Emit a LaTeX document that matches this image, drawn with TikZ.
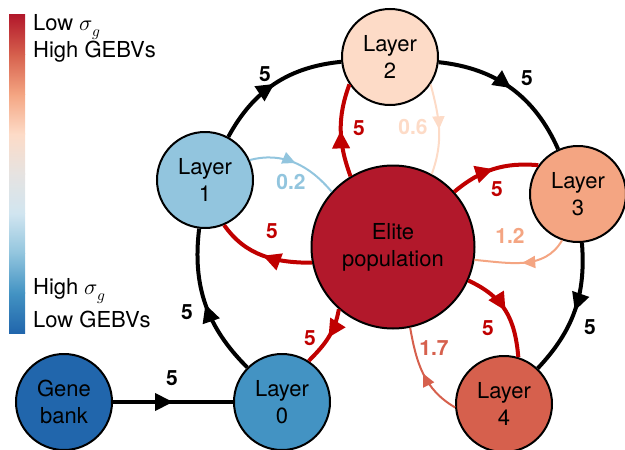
\documentclass[tikz,border=0pt]{standalone}
\usepackage{fontspec}
\usepackage{unicode-math}
\setmainfont{TeX Gyre Heros}
\setmathfont{Latin Modern Math}
\usetikzlibrary{arrows.meta,decorations.markings}
\definecolor{cElite}{HTML}{B2182B}
\definecolor{cL4}{HTML}{D6604D}
\definecolor{cL3}{HTML}{F4A582}
\definecolor{cL2}{HTML}{FDDBC7}
\definecolor{cMid}{HTML}{E6E3E1}
\definecolor{cLb}{HTML}{D1E5F0}
\definecolor{cL1}{HTML}{92C5DE}
\definecolor{cL0}{HTML}{4393C3}
\definecolor{cGene}{HTML}{2166AC}
\definecolor{cRed}{HTML}{C00000}
\tikzset{
  layer/.style={circle, draw=black, line width=2pt, minimum size=96pt, inner sep=0pt, align=center, font=\fontsize{22}{27}\selectfont},
  bigarrow/.style={postaction={decorate}, decoration={markings, mark=at position 0.5 with {\arrow{Triangle[length=18pt,width=17pt]}}}},
  smallarrow/.style={postaction={decorate}, decoration={markings, mark=at position 0.5 with {\arrow{Triangle[length=13pt,width=12pt]}}}},
  ring/.style={draw=black, line width=4pt, bigarrow},
  redline/.style={draw=cRed, line width=4pt, bigarrow},
  thinline/.style={draw=#1, line width=2pt, smallarrow},
  lab/.style={font=\fontsize{21}{25}\selectfont\bfseries, inner sep=0pt},
  legend/.style={anchor=west, inner sep=0pt, font=\fontsize{22}{26}\selectfont},
}
\begin{document}
\begin{tikzpicture}[x=1pt,y=1pt]
\useasboundingbox (0,0) rectangle (625,-450);
% colour bar
\foreach \i/\ca/\cb in {0/cGene/cL0, 1/cL0/cL1, 2/cL1/cLb, 3/cLb/cMid, 4/cMid/cL2, 5/cL2/cL3, 6/cL3/cL4, 7/cL4/cElite}{
  \shade[bottom color=\ca, top color=\cb] (9,{-333+\i*39.75}) rectangle (25,{-333+(\i+1)*39.75+0.4});
}
\node[legend] (lg1) at (33,-27) {Low $\sigma_g$};
\node[legend] (lg2) at (33,-52) {High GEBVs};
\node[legend] (lg3) at (33,-291) {High $\sigma_g$};
\node[legend] (lg4) at (33,-319) {Low GEBVs};

% nodes
\node[layer, fill=cElite, minimum size=163pt] (E) at (393,-247) {Elite\\population};
\node[layer, fill=cL2] (L2) at (390,-57) {Layer\\2};
\node[layer, fill=cL1] (L1) at (205,-180) {Layer\\1};
\node[layer, fill=cL3] (L3) at (578,-194) {Layer\\3};
\node[layer, fill=cL4] (L4) at (504,-404) {Layer\\4};
\node[layer, fill=cL0] (L0) at (282,-402) {Layer\\0};
\node[layer, fill=cGene] (G) at (64,-402) {Gene\\bank};

% outer ring
\draw[ring] (G) -- (L0);
\draw[ring] (L0) to[bend left=26] (L1);
\draw[ring] (L1) to[bend left=28] (L2);
\draw[ring] (L2) to[bend left=30] (L3);
\draw[ring] (L3) to[bend left=24] (L4);

% elite edges
\draw[redline] (E.121) to[out=110,in=-110] (L2.214);
\draw[thinline=cL2] (L2.-34) to[out=-75,in=70] (E.62);
\draw[thinline=cL1] (L1.24) to[out=15,in=130] (E.138);
\draw[redline] (E.191) to[out=180,in=-55] (L1.-67);
\draw[redline] (E.42) to[out=40,in=175] (L3.144);
\draw[thinline=cL3] (L3.-109) to[out=-120,in=-5] (E.-9);
\draw[redline] (E.-24) to[out=-25,in=95,looseness=1.1] (L4.73);
\draw[thinline=cL4] (L4.184) to[out=150,in=-80] (E.-78);
\draw[redline] (E.229) to[out=-100,in=45] (L0.57);

% labels
\node[lab] (b1) at (265,-74) {5};
\node[lab] (b2) at (527,-78) {5};
\node[lab] (b3) at (590,-327) {5};
\node[lab] (b4) at (187,-312) {5};
\node[lab] (b5) at (172,-378) {5};
\node[lab, text=cRed] (r1) at (359,-128) {5};
\node[lab, text=cRed] (r2) at (272,-231) {5};
\node[lab, text=cRed] (r3) at (497,-189) {5};
\node[lab, text=cRed] (r4) at (488,-328) {5};
\node[lab, text=cRed] (r5) at (310,-338) {5};
\node[lab, text=cL2] (t1) at (413,-127) {0.6};
\node[lab, text=cL1] (t2) at (291,-182) {0.2};
\node[lab, text=cL3] (t3) at (510,-236) {1.2};
\node[lab, text=cL4] (t4) at (434,-348) {1.7};
\end{tikzpicture}
\end{document}
